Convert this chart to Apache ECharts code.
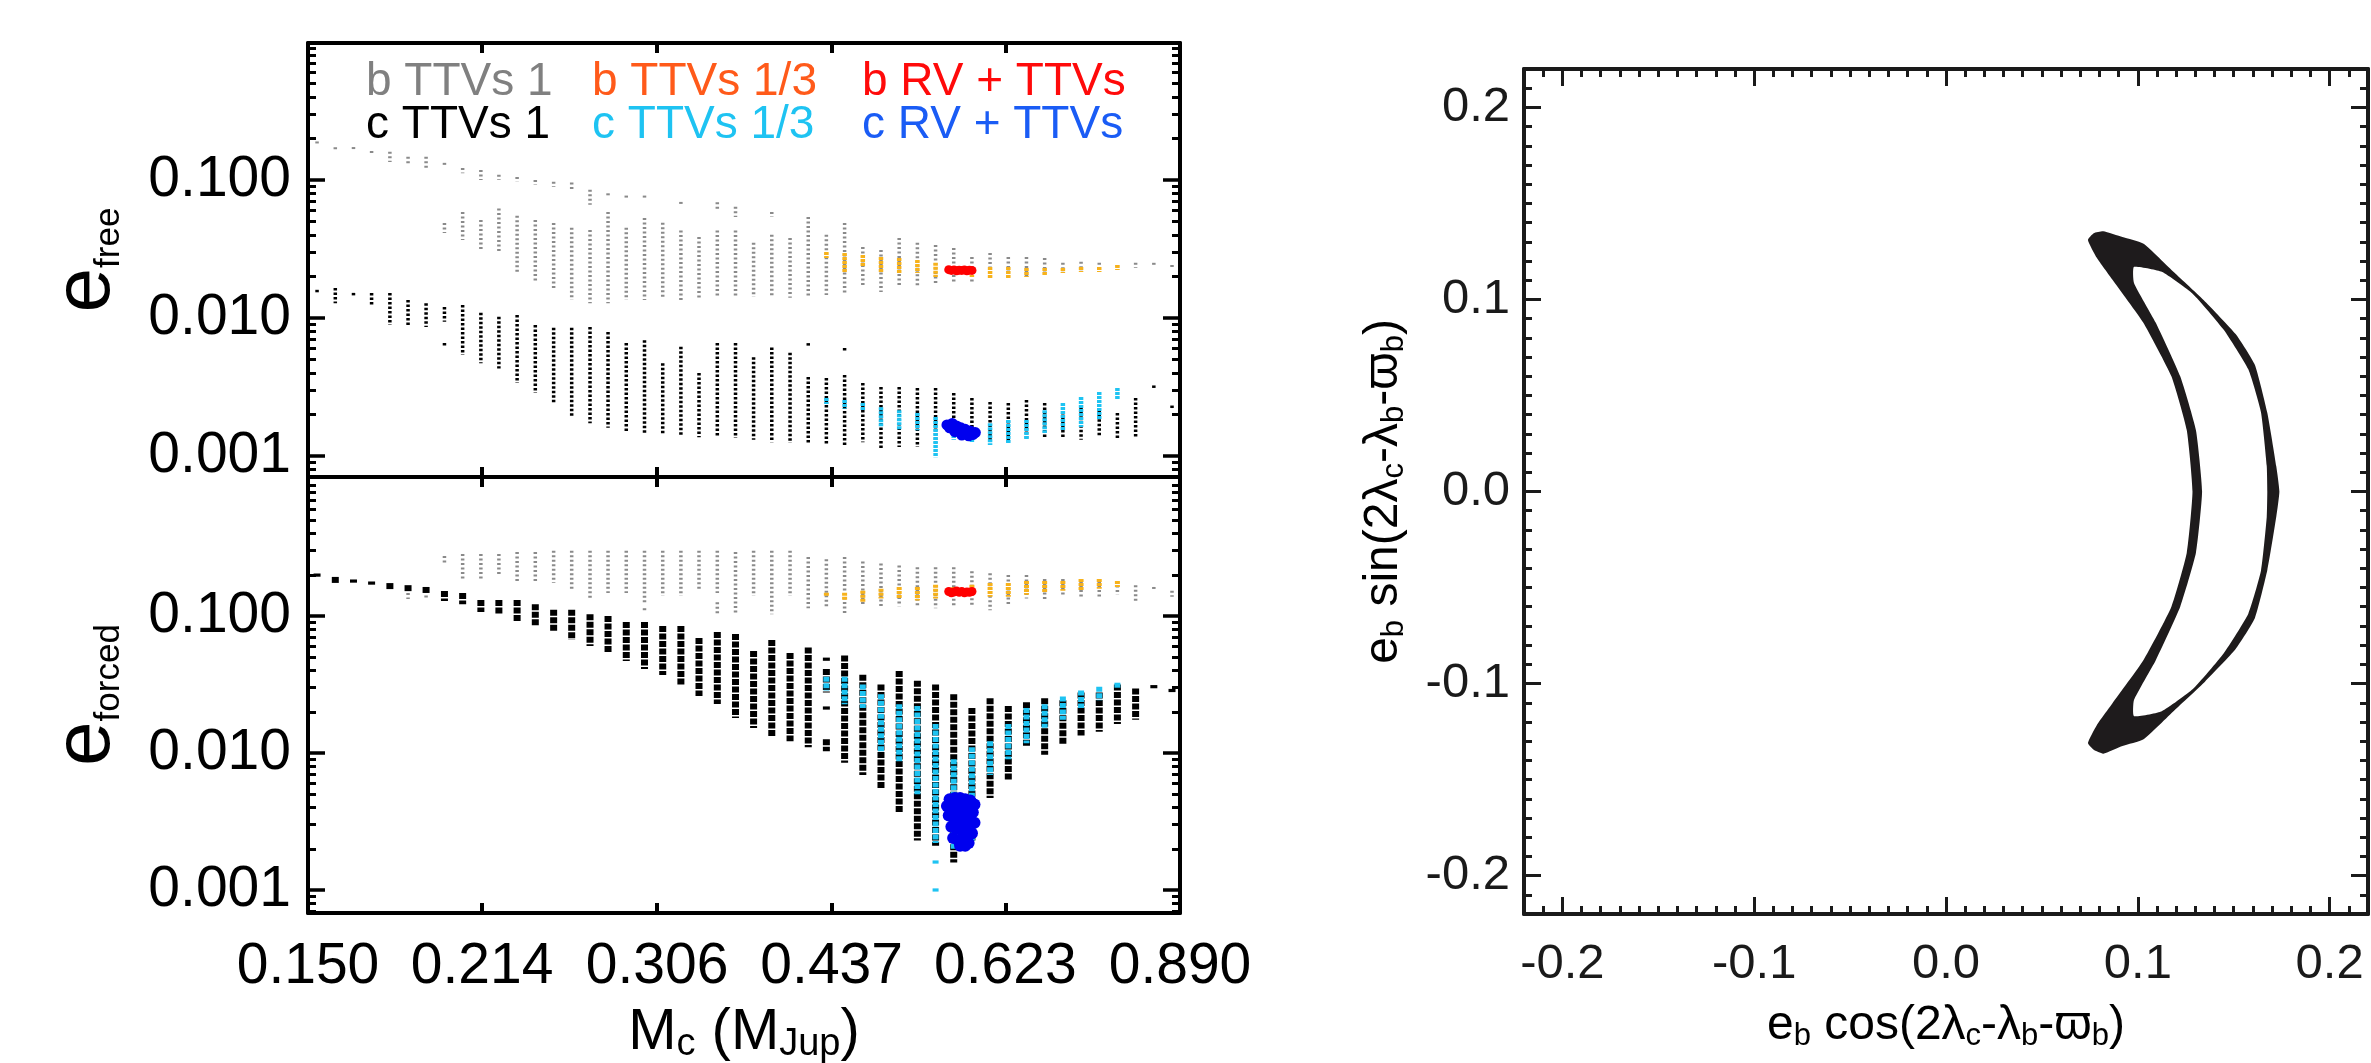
<!DOCTYPE html>
<html><head><meta charset="utf-8">
<script src="https://cdn.jsdelivr.net/npm/echarts@6/dist/echarts.min.js"></script>
<style>html,body{margin:0;padding:0;background:#fff}#c{width:2371px;height:1063px}</style>
</head><body><div id="c"></div>
<script>
// ---------------- DATA ----------------
// mass grid (M_Jup) of the simulated columns
const massGrid = [0.1528,0.1586,0.1646,0.1708,0.1773,0.1840,0.1909,0.1982,0.2057,0.2135,0.2215,0.2299,0.2386,0.2477,0.2570,0.2668,0.2768,0.2873,0.2982,0.3095,0.3212,0.3333,0.3460,0.3591,0.3726,0.3867,0.4014,0.4166,0.4323,0.4487,0.4657,0.4833,0.5016,0.5206,0.5403,0.5607,0.5819,0.6039,0.6268,0.6505,0.6751,0.7007,0.7272,0.7547,0.7832,0.8129,0.8437,0.8756];
const xTickLabels = ['0.150','0.214','0.306','0.437','0.623','0.890'];
const eTickLabels = ['0.001','0.010','0.100'];
const rightTickLabels = ['-0.2','-0.1','0.0','0.1','0.2'];
const legendNames = ['b TTVs 1','b TTVs 1/3','b RV + TTVs','c TTVs 1','c TTVs 1/3','c RV + TTVs'];

// columns: [massIndex, e_high, e_low]
const bFree1 = [[0,0.19,0.18],[1,0.171,0.165],[2,0.171,0.166],[3,0.162,0.152],[4,0.16,0.135],[5,0.147,0.128],[6,0.147,0.118],[7,0.133,0.124],[7,0.0488,0.0413],[8,0.122,0.112],[8,0.0586,0.0367],[9,0.118,0.10],[9,0.0513,0.0311],[10,0.109,0.10],[10,0.062,0.0296],[11,0.105,0.097],[11,0.055,0.021],[12,0.1,0.092],[12,0.0513,0.018],[13,0.097,0.089],[13,0.0488,0.016],[14,0.096,0.085],[14,0.045,0.0135],[15,0.085,0.066],[15,0.0434,0.0128],[16,0.080,0.076],[16,0.0586,0.0128],[17,0.076,0.074],[17,0.045,0.0135],[18,0.076,0.074],[18,0.053,0.0135],[19,0.049,0.014],[20,0.069,0.066],[20,0.043,0.0135],[21,0.0386,0.014],[22,0.069,0.060],[22,0.043,0.014],[23,0.064,0.054],[23,0.043,0.0142],[24,0.035,0.0142],[25,0.0586,0.054],[25,0.040,0.014],[26,0.038,0.014],[27,0.054,0.0142],[28,0.040,0.0147],[29,0.0488,0.0147],[30,0.0327,0.0168],[31,0.0311,0.0154],[32,0.038,0.0168],[33,0.035,0.0168],[34,0.0338,0.0173],[35,0.0321,0.0179],[36,0.0277,0.0182],[37,0.0296,0.0195],[38,0.0277,0.0195],[39,0.0277,0.0198],[40,0.0272,0.0205],[41,0.0251,0.0212],[42,0.0255,0.0215],[43,0.0251,0.0215],[44,0.0242,0.0223],[45,0.0251,0.0230],[46,0.0251,0.0234],[47,0.0242,0.0230]];
const bFree3 = [[28,0.030,0.0272],[29,0.0296,0.0212],[30,0.0286,0.0234],[31,0.0277,0.0215],[32,0.0272,0.0212],[33,0.0263,0.0212],[34,0.0251,0.0198],[35,0.0234,0.0205],[36,0.0234,0.0198],[37,0.0234,0.0195],[38,0.0234,0.0195],[39,0.023,0.0198],[40,0.023,0.0205],[41,0.023,0.0212],[42,0.0234,0.0215],[43,0.0234,0.0215],[44,0.0242,0.0223]];
const cFree1 = [[0,0.016,0.0152],[1,0.0165,0.0128],[2,0.0152,0.0142],[3,0.0152,0.0124],[4,0.0152,0.0089],[5,0.0135,0.0089],[6,0.0128,0.0086],[7,0.012,0.0094],[7,0.0066,0.0061],[8,0.0124,0.0054],[9,0.0109,0.0047],[10,0.0102,0.0043],[11,0.0105,0.00338],[12,0.0089,0.00286],[13,0.0085,0.00242],[14,0.0085,0.00192],[15,0.0086,0.00173],[16,0.0079,0.0016],[17,0.0066,0.00149],[18,0.0069,0.00147],[19,0.0047,0.00142],[20,0.0062,0.00142],[21,0.004,0.00137],[22,0.0066,0.00137],[23,0.0066,0.00135],[24,0.0052,0.00131],[25,0.0061,0.00126],[26,0.0056,0.00124],[27,0.0064,0.0064],[27,0.00374,0.00124],[28,0.00367,0.0012],[29,0.0059,0.0059],[29,0.00386,0.00116],[30,0.00338,0.00126],[31,0.00316,0.00114],[32,0.00316,0.00116],[33,0.00311,0.00116],[34,0.00311,0.00124],[35,0.00286,0.00137],[36,0.00263,0.00126],[37,0.00246,0.00131],[38,0.00242,0.00124],[39,0.00255,0.00131],[40,0.00242,0.00137],[41,0.00242,0.00137],[42,0.00226,0.00131],[43,0.00215,0.00137],[44,0.00205,0.00135],[45,0.00263,0.00137],[46,0.00316,0.00316],[47,0.00226,0.00226]];
const cFree3 = [[28,0.00263,0.00238],[29,0.00255,0.0022],[30,0.00242,0.00215],[31,0.00226,0.00162],[32,0.00215,0.00154],[33,0.00205,0.00154],[34,0.00192,0.00098],[35,0.00162,0.00131],[36,0.00162,0.00124],[37,0.00173,0.0012],[38,0.00182,0.00124],[39,0.00182,0.00131],[40,0.00215,0.00147],[41,0.00242,0.00154],[42,0.00268,0.00162],[43,0.00291,0.00182],[44,0.00311,0.00255]];

const bForced1 = [[4,0.168,0.157],[5,0.147,0.133],[6,0.152,0.133],[7,0.274,0.244],[8,0.284,0.186],[9,0.284,0.186],[10,0.284,0.199],[11,0.293,0.174],[12,0.293,0.174],[13,0.30,0.174],[14,0.30,0.152],[15,0.30,0.131],[16,0.30,0.147],[17,0.30,0.147],[18,0.30,0.126],[18,0.111,0.111],[19,0.30,0.14],[20,0.30,0.14],[21,0.30,0.152],[22,0.30,0.147],[22,0.126,0.103],[23,0.293,0.103],[24,0.30,0.14],[25,0.30,0.103],[26,0.30,0.14],[27,0.27,0.114],[28,0.26,0.118],[29,0.27,0.103],[30,0.25,0.118],[31,0.242,0.118],[32,0.234,0.118],[33,0.227,0.118],[34,0.227,0.114],[35,0.227,0.118],[36,0.212,0.121],[37,0.205,0.110],[38,0.199,0.121],[39,0.199,0.134],[40,0.186,0.13],[41,0.186,0.138],[42,0.18,0.138],[43,0.18,0.138],[44,0.18,0.143],[45,0.168,0.125],[46,0.163,0.153],[47,0.153,0.138]];
const bForced3 = [[28,0.148,0.138],[29,0.148,0.13],[30,0.153,0.125],[31,0.158,0.134],[32,0.163,0.134],[33,0.163,0.13],[34,0.169,0.134],[35,0.163,0.148],[36,0.169,0.143],[37,0.174,0.138],[38,0.174,0.138],[39,0.18,0.143],[40,0.18,0.148],[41,0.18,0.153],[42,0.186,0.153],[43,0.186,0.158],[44,0.18,0.163]];
const cForced1 = [[0,0.199,0.199],[1,0.193,0.174],[2,0.18,0.18],[3,0.174,0.174],[4,0.174,0.157],[5,0.168,0.152],[6,0.163,0.147],[7,0.152,0.129],[8,0.147,0.122],[9,0.131,0.107],[10,0.131,0.103],[11,0.131,0.0904],[12,0.122,0.0845],[13,0.111,0.0764],[14,0.111,0.0668],[15,0.103,0.0604],[16,0.1,0.0537],[17,0.0904,0.0469],[18,0.0904,0.041],[19,0.0845,0.0371],[20,0.0845,0.0314],[21,0.0691,0.0261],[22,0.0764,0.0228],[23,0.0739,0.018],[24,0.0556,0.0152],[25,0.0668,0.0131],[26,0.0537,0.0122],[27,0.059,0.011],[28,0.0484,0.0484],[28,0.041,0.0277],[28,0.0213,0.0213],[28,0.0126,0.0103],[29,0.0516,0.0085],[30,0.0372,0.0069],[31,0.0316,0.0055],[32,0.0397,0.0037],[33,0.0337,0.0023],[34,0.0316,0.0021],[35,0.0268,0.00159],[36,0.0213,0.0023],[37,0.0251,0.0047],[38,0.022,0.0063],[39,0.0235,0.011],[40,0.0251,0.0097],[41,0.0243,0.0114],[42,0.0277,0.0134],[43,0.0277,0.0143],[44,0.0316,0.0163],[45,0.0296,0.0175],[46,0.0305,0.0305],[47,0.0286,0.0286]];
const cForced3 = [[28,0.036,0.0286],[29,0.036,0.0227],[30,0.0316,0.0213],[31,0.0268,0.0103],[32,0.0227,0.0085],[33,0.022,0.005],[34,0.0163,0.0022],[34,0.0016,0.0016],[34,0.001,0.001],[35,0.009,0.002],[36,0.011,0.0023],[37,0.0122,0.0069],[38,0.0163,0.009],[39,0.0213,0.0118],[40,0.0227,0.0153],[41,0.0259,0.0175],[42,0.0286,0.0213],[43,0.0305,0.0243],[44,0.0326,0.0296]];

// RV + TTVs solutions: [mass, e]
const bRVFree = [[0.555,0.0224],[0.558,0.0221],[0.561,0.0223],[0.564,0.0220],[0.567,0.0222],[0.570,0.0221],[0.573,0.0223],[0.576,0.0220],[0.579,0.0222],[0.582,0.0221]];
const cRVFree = [[0.553,0.00168],[0.556,0.00160],[0.559,0.00172],[0.561,0.00158],[0.564,0.00165],[0.566,0.00152],[0.569,0.00160],[0.572,0.00148],[0.574,0.00156],[0.577,0.00146],[0.580,0.00152],[0.583,0.00143],[0.586,0.00148],[0.562,0.00150],[0.570,0.00142],[0.578,0.00140]];
const bRVForced = [[0.555,0.151],[0.558,0.148],[0.561,0.150],[0.564,0.152],[0.567,0.149],[0.570,0.151],[0.573,0.148],[0.576,0.150],[0.579,0.149],[0.582,0.151]];
const cRVForced = [[0.556,0.0046],[0.562,0.0047],[0.568,0.0047],[0.574,0.0046],[0.580,0.0045],[0.585,0.0042],[0.553,0.0041],[0.559,0.0040],[0.565,0.0042],[0.571,0.0040],[0.577,0.0039],[0.583,0.0037],[0.555,0.0035],[0.561,0.0033],[0.567,0.0036],[0.573,0.0034],[0.579,0.0032],[0.585,0.0031],[0.558,0.0029],[0.564,0.0028],[0.570,0.0030],[0.576,0.0027],[0.582,0.0026],[0.560,0.0024],[0.566,0.0023],[0.572,0.0025],[0.578,0.0022],[0.568,0.0021],[0.574,0.0021]];

// resonant angle trajectory (outer boundary and inner hole), [e cos, e sin]
const crescentOuter = [[0.074,0.131],[0.077,0.1345],[0.082,0.1355],[0.092,0.1325],[0.103,0.129],[0.119,0.114],[0.135,0.099],[0.151,0.082],[0.161,0.066],[0.1675,0.041],[0.1722,0.013],[0.1738,0.0],[0.1722,-0.013],[0.1675,-0.041],[0.161,-0.066],[0.151,-0.082],[0.135,-0.099],[0.119,-0.114],[0.103,-0.129],[0.092,-0.1325],[0.082,-0.1365],[0.077,-0.1345],[0.074,-0.131],[0.0786,-0.1217],[0.0867,-0.1104],[0.1028,-0.088],[0.1175,-0.06],[0.1255,-0.032],[0.1285,0.0],[0.1255,0.032],[0.1175,0.06],[0.1028,0.088],[0.0867,0.1104],[0.0786,0.1217]];
const crescentInner = [[0.098,0.117],[0.1125,0.1144],[0.1287,0.1029],[0.1448,0.0842],[0.1576,0.0636],[0.1642,0.0413],[0.1672,0.0134],[0.1675,0],[0.1672,-0.0134],[0.1642,-0.0413],[0.1576,-0.0636],[0.1448,-0.0842],[0.1287,-0.1029],[0.1125,-0.1144],[0.098,-0.117],[0.098,-0.1086],[0.1093,-0.088],[0.1221,-0.06],[0.1303,-0.0319],[0.1335,0],[0.1303,0.0319],[0.1221,0.06],[0.1093,0.088],[0.098,0.1086]];

// ---------------- BUILD ----------------
const FONT = '"Liberation Sans", Arial, Helvetica, sans-serif';
const L = Math.log10;
const xMin = L(parseFloat(xTickLabels[0])), xMax = L(parseFloat(xTickLabels[xTickLabels.length-1]));
const xMajor = xTickLabels.map(s => L(parseFloat(s)));
const eMajor = eTickLabels.map(s => L(parseFloat(s)));
const rMajor = rightTickLabels.map(s => parseFloat(s));
const topExt = [-3.152, -0.008], botExt = [-3.168, 0.015];
function minorLog(ext){ const out=[]; for(let n=-4;n<=0;n++) for(let k=2;k<=9;k++){const v=n+L(k); if(v>ext[0]&&v<ext[1]) out.push(v);} return out; }

const COL = {gray:'#8a8a8a', orangePt:'#F7B21B', red:'#FF0000', black:'#000000', cyan:'#1EC3F2', bluePt:'#0000EE'};
const legendColors = ['#808080','#FF5A1A','#FF0A0A','#000000','#1EC3F2','#1A5CF5'];

const richL = {
  m:{fontSize:80, fontFamily:FONT, color:'#000', lineHeight:80},
  s:{fontSize:35, fontFamily:FONT, color:'#000', lineHeight:30, verticalAlign:'bottom'}
};
const richX = {
  m:{fontSize:58, fontFamily:FONT, color:'#000', lineHeight:62},
  s:{fontSize:38, fontFamily:FONT, color:'#000', lineHeight:27, verticalAlign:'bottom'}
};
const richR = {
  m:{fontSize:48, fontFamily:FONT, color:'#000', lineHeight:52},
  s:{fontSize:31, fontFamily:FONT, color:'#000', lineHeight:22, verticalAlign:'bottom'}
};

function tickAxis(base){ return Object.assign({type:'value', splitLine:{show:false}, axisLine:{show:true,onZero:false,lineStyle:{color:'#000',width:4}}}, base); }

function leftY(g, ext, name){
  const minors = minorLog(ext);
  return [
    tickAxis({gridIndex:g, min:ext[0], max:ext[1], position:'left',
      axisTick:{show:true,inside:true,length:17,customValues:eMajor,lineStyle:{color:'#000',width:3.5}},
      axisLabel:{show:true,customValues:eMajor,margin:17,fontSize:57,fontFamily:FONT,color:'#000',formatter:v=>Math.pow(10,v).toFixed(3)},
      name:name, nameLocation:'middle', nameRotate:90, nameGap:181, nameTextStyle:{rich:richL}}),
    tickAxis({gridIndex:g, min:ext[0], max:ext[1], position:'left', axisLine:{show:false,onZero:false},
      axisTick:{show:true,inside:true,length:8,customValues:minors,lineStyle:{color:'#000',width:3}}, axisLabel:{show:false}}),
    tickAxis({gridIndex:g, min:ext[0], max:ext[1], position:'right',
      axisTick:{show:true,inside:true,length:17,customValues:eMajor,lineStyle:{color:'#000',width:3.5}}, axisLabel:{show:false}}),
    tickAxis({gridIndex:g, min:ext[0], max:ext[1], position:'right', axisLine:{show:false,onZero:false},
      axisTick:{show:true,inside:true,length:8,customValues:minors,lineStyle:{color:'#000',width:3}}, axisLabel:{show:false}})
  ];
}
function leftX(g, labels){
  return [
    tickAxis({gridIndex:g, min:xMin, max:xMax, position:'bottom',
      axisTick:{show:true,inside:true,length:10,customValues:xMajor,lineStyle:{color:'#000',width:4}},
      axisLabel:{show:labels,customValues:xMajor,margin:26,fontSize:57,fontFamily:FONT,color:'#000',formatter:v=>Math.pow(10,v).toFixed(3)},
      name: labels ? '{m|M}{s|c}{m| (M}{s|Jup}{m|)}' : '', nameLocation:'middle', nameGap:89, nameTextStyle:{rich:richX}}),
    tickAxis({gridIndex:g, min:xMin, max:xMax, position:'top',
      axisTick:{show:true,inside:true,length:10,customValues:xMajor,lineStyle:{color:'#000',width:4}}, axisLabel:{show:false}})
  ];
}
function rightAx(pos, isY, labels, name, gap){
  return tickAxis({gridIndex:2, min:-0.22, max:0.22, position:pos, splitNumber:5,
    axisLine:{show:true,onZero:false,lineStyle:{color:'#1a1a1a',width:4}},
    axisTick:{show:true,inside:true,length:17,customValues:rMajor,lineStyle:{color:'#1a1a1a',width:3}},
    minorTick:{show:true,splitNumber:10,length:8,lineStyle:{color:'#1a1a1a',width:3}},
    axisLabel:{show:labels,customValues:rMajor,margin:isY?14:26,fontSize:49,fontFamily:FONT,color:'#1a1a1a',formatter:v=>v.toFixed(1)},
    name:name||'', nameLocation:'middle', nameRotate:isY?90:0, nameGap:gap||0, nameTextStyle:{rich:richR}});
}

function rangeSeries(name, rows, xi, yi, color, w, dash){
  return {name, type:'custom', xAxisIndex:xi, yAxisIndex:yi, silent:true, clip:true,
    data: rows.map(r => [L(massGrid[r[0]]), L(r[1]), L(r[2])]),
    encode:{x:0, y:[1,2]},
    renderItem:function(params, api){
      const a = api.coord([api.value(0), api.value(1)]);
      const b = api.coord([api.value(0), api.value(2)]);
      let y1 = Math.min(a[1],b[1]), y2 = Math.max(a[1],b[1]);
      if (y2 - y1 < 3){ const m=(y1+y2)/2; y1=m-1.6; y2=m+1.6; }
      return {type:'line', shape:{x1:a[0],y1:y1,x2:a[0],y2:y2}, style:{stroke:color,lineWidth:w,lineDash:dash}};
    }};
}
function blobSeries(name, pts, xi, yi, color, size){
  return {name, type:'scatter', xAxisIndex:xi, yAxisIndex:yi, silent:true, symbol:'circle', symbolSize:size,
    itemStyle:{color:color, opacity:1}, data: pts.map(p => [L(p[0]), L(p[1])])};
}
function ringSeries(name, ring, color){
  return {name, type:'custom', xAxisIndex:4, yAxisIndex:8, silent:true, clip:true, data:[[0,0]],
    renderItem:function(params, api){
      return {type:'polygon', shape:{points: ring.map(p => api.coord(p)), smooth:0.15}, style:{fill:color}};
    }};
}

const option = {
  animation:false,
  backgroundColor:'#ffffff',
  textStyle:{fontFamily:FONT},
  grid:[
    {left:308, top:43, width:872, height:434, containLabel:false, outerBoundsMode:'none'},
    {left:308, top:477, width:872, height:436, containLabel:false, outerBoundsMode:'none'},
    {left:1524, top:69, width:844, height:845, containLabel:false, outerBoundsMode:'none'}
  ],
  xAxis:[...leftX(0,false), ...leftX(1,true),
    rightAx('bottom', false, true, '{m|e}{s|b}{m| cos(2λ}{s|c}{m|-λ}{s|b}{m|-ϖ}{s|b}{m|)}', 86),
    rightAx('top', false, false)],
  yAxis:[...leftY(0, topExt, '{m|e}{s|free}'), ...leftY(1, botExt, '{m|e}{s|forced}'),
    rightAx('left', true, true, '{m|e}{s|b}{m| sin(2λ}{s|c}{m|-λ}{s|b}{m|-ϖ}{s|b}{m|)}', 114),
    rightAx('right', true, false)],
  series:[
    rangeSeries(legendNames[0], bFree1, 0, 0, COL.gray, 3.5, [2,2.5]),
    rangeSeries(legendNames[3], cFree1, 0, 0, COL.black, 3.5, [2.5,2]),
    rangeSeries(legendNames[1], bFree3, 0, 0, COL.orangePt, 4.5, [3,1]),
    rangeSeries(legendNames[4], cFree3, 0, 0, COL.cyan, 4.5, [3,1]),
    blobSeries(legendNames[2], bRVFree, 0, 0, COL.red, 9),
    blobSeries(legendNames[5], cRVFree, 0, 0, COL.bluePt, 11),
    rangeSeries(legendNames[0], bForced1, 2, 4, COL.gray, 3.5, [2,2.5]),
    rangeSeries(legendNames[3], cForced1, 2, 4, COL.black, 7, [6,1.5]),
    rangeSeries(legendNames[1], bForced3, 2, 4, COL.orangePt, 5, [3,1]),
    rangeSeries(legendNames[4], cForced3, 2, 4, COL.cyan, 6, [5,1.5]),
    blobSeries(legendNames[2], bRVForced, 2, 4, COL.red, 9),
    blobSeries(legendNames[5], cRVForced, 2, 4, COL.bluePt, 12),
    ringSeries('trajectory', crescentOuter, '#1e1b1c'),
    ringSeries('trajectory hole', crescentInner, '#ffffff')
  ],
  graphic:{elements: legendNames.map((t,i) => ({
    type:'text', x:[366,592,862][i%3], y:[82,125][Math.floor(i/3)], silent:true,
    style:{text:t, fill:legendColors[i], font:'46px '+FONT, verticalAlign:'middle', textVerticalAlign:'middle', align:'left'}
  }))}
};
const chart = echarts.init(document.getElementById('c'), null, {renderer:'canvas', width:2371, height:1063});
chart.setOption(option);
</script></body></html>
